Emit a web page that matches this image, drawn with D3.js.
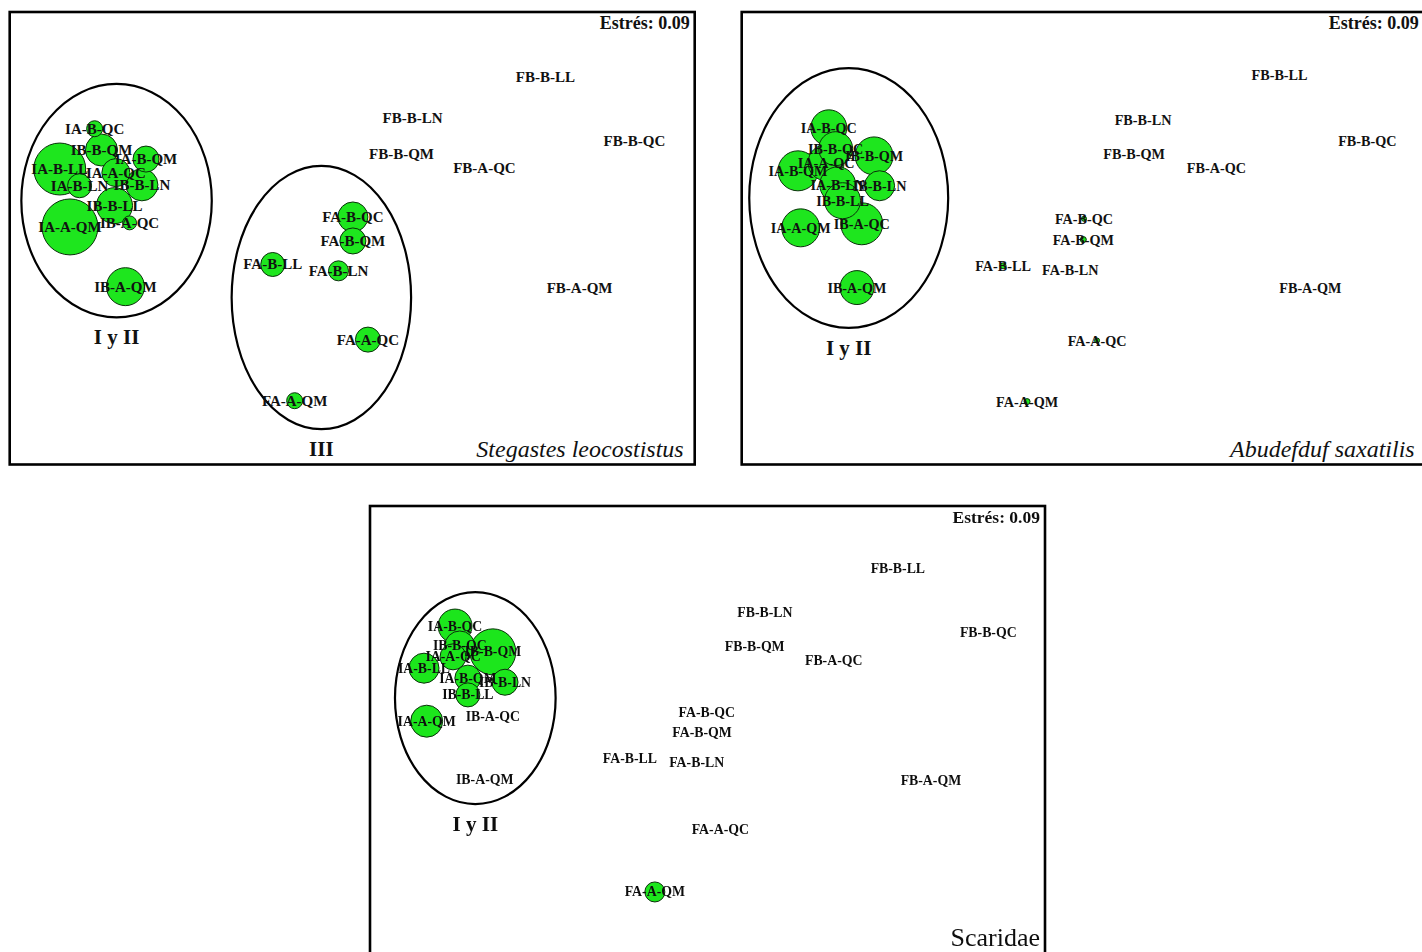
<!DOCTYPE html>
<html>
<head>
<meta charset="utf-8">
<script src="https://cdn.jsdelivr.net/npm/d3@7"></script>
<style>
  body { margin: 0; background: #fff; }
  svg { display: block; }
</style>
</head>
<body>
<svg id="chart" width="1422" height="952"></svg>
<script>
// Sample codes (site - depth - locality), shared by the three nMDS ordinations
const samples = [
  "IA-B-QC", "IB-B-QC", "IB-B-QM", "IA-B-QM", "IA-A-QC", "IA-B-LL",
  "IA-B-LN", "IB-B-LN", "IB-B-LL", "IB-A-QC", "IA-A-QM", "IB-A-QM",
  "FA-B-QC", "FA-B-QM", "FA-B-LL", "FA-B-LN", "FA-A-QC", "FA-A-QM",
  "FB-B-LL", "FB-B-LN", "FB-B-QC", "FB-B-QM", "FB-A-QC", "FB-A-QM"
];
const stressText = "Estrés: 0.09";

// Stegastes leocostistus: ordination coordinates (0-100 frame units) and bubble abundance
const stegX = [12.4, null, 13.4, 19.9, 15.5, 7.3, 10.2, 19.3, 15.3, 17.5, 8.8, 16.9,
               50.1, 50.1, 38.4, 48.0, 52.3, 41.6, 78.2, 58.8, 91.2, 57.2, 69.3, 83.2];
const stegY = [74.2, null, 69.5, 67.5, 64.5, 65.3, 61.6, 61.8, 57.2, 53.4, 52.5, 39.3,
               54.7, 49.4, 44.2, 42.8, 27.6, 14.1, 85.7, 76.6, 71.5, 68.7, 65.6, 38.9];
const stegAbund = [7.1, 0, 28.4, 18.8, 21.8, 75, 16, 28.4, 36, 5.4, 87, 40,
                   25, 18.8, 16, 11.1, 17.4, 7.1, 0, 0, 0, 0, 0, 0];
const stegGroups = [["I y II", 15.6, 58.3, 13.9, 25.8], ["III", 45.5, 36.9, 13.1, 29.1]];

// Abudefduf saxatilis
const abudX = [12.7, 13.7, 19.3, 8.2, 12.3, null, 14.0, 20.1, 14.7, 17.5, 8.6, 16.8,
               49.9, 49.8, 38.1, 47.9, 51.8, 41.6, 78.4, 58.5, 91.2, 57.2, 69.2, 82.9];
const abudY = [74.4, 69.8, 68.2, 64.9, 66.7, null, 61.8, 61.6, 58.3, 53.2, 52.3, 39.1,
               54.3, 49.7, 43.9, 43.0, 27.4, 13.9, 86.1, 76.2, 71.5, 68.7, 65.6, 38.9];
const abudAbund = [36, 32, 40, 44.4, 36, 0, 36, 25, 36, 49, 40, 32,
                   0.7, 1, 1, 0, 0.7, 1, 0, 0, 0, 0, 0, 0];
const abudGroups = [["I y II", 15.6, 58.9, 14.5, 28.7]];

// Scaridae
const scarX = [12.6, 13.3, 18.2, 14.5, 12.3, 8.0, null, 20.0, 14.5, 18.2, 8.4, 17.0,
               49.9, 49.2, 38.5, 48.4, 51.9, 42.2, 78.2, 58.5, 91.6, 57.0, 68.7, 83.1];
const scarY = [73.5, 69.1, 67.8, 62.0, 66.7, 64.2, null, 61.1, 58.3, 53.6, 52.5, 39.7,
               54.5, 49.9, 44.2, 43.3, 28.5, 14.8, 86.1, 76.6, 72.0, 68.9, 66.0, 39.5];
const scarAbund = [32, 25, 58.8, 18.8, 18.8, 25, 0, 18.8, 16, 0, 28.4, 0,
                   0, 0, 0, 0, 0, 11.1, 0, 0, 0, 0, 0, 0];
const scarGroups = [["I y II", 15.6, 57.6, 11.9, 23.4]];

const svg = d3.select("#chart");
const defs = svg.append("defs");
defs.append("filter").attr("id", "soft")
  .append("feGaussianBlur").attr("stdDeviation", 0.55);

const serif = "'Liberation Serif', 'Times New Roman', serif";
const rScale = d3.scaleSqrt().domain([0, 100]).range([0, 30]);

function drawPanel(p, xs, ys, ab, groups) {
  const g = svg.append("g");
  if (p.soft) g.attr("filter", "url(#soft)");
  const x = d3.scaleLinear().domain([0, 100]).range([p.left, p.left + p.width]);
  const y = d3.scaleLinear().domain([0, 100]).range([p.top + p.height, p.top]);

  g.append("rect")
    .attr("x", p.left).attr("y", p.top)
    .attr("width", p.width).attr("height", p.height)
    .attr("fill", "#fff").attr("stroke", "#000").attr("stroke-width", 2.6);

  const pts = samples.map((s, i) => ({ s, x: xs[i], y: ys[i], a: ab[i] }))
    .filter(d => d.x !== null);

  // group envelopes
  groups.forEach(([name, cx, cy, rx, ry]) => {
    g.append("ellipse")
      .attr("cx", x(cx)).attr("cy", y(cy))
      .attr("rx", x(rx) - x(0)).attr("ry", y(0) - y(ry))
      .attr("fill", "none").attr("stroke", "#000").attr("stroke-width", 2.2);
    g.append("text")
      .attr("x", x(cx)).attr("y", y(cy - ry) + 20)
      .attr("text-anchor", "middle").attr("dominant-baseline", "central")
      .attr("font-family", serif).attr("font-weight", "bold")
      .attr("font-size", p.groupSize).attr("fill", "#111")
      .text(name);
  });

  // abundance bubbles, biggest underneath
  g.append("g").selectAll("circle")
    .data(pts.filter(d => d.a > 0).sort((a, b) => b.a - a.a))
    .join("circle")
    .attr("cx", d => x(d.x)).attr("cy", d => y(d.y))
    .attr("r", d => rScale(d.a))
    .attr("fill", "#1ee61e").attr("stroke", "#0a300a").attr("stroke-width", 1);

  // sample labels
  g.append("g").selectAll("text")
    .data(pts)
    .join("text")
    .attr("x", d => x(d.x)).attr("y", d => y(d.y))
    .attr("text-anchor", "middle").attr("dominant-baseline", "central")
    .attr("font-family", serif).attr("font-weight", "bold")
    .attr("font-size", p.labelSize).attr("fill", "#111")
    .text(d => d.s);

  g.append("text")
    .attr("x", p.left + p.width - p.stressInset).attr("y", p.top + 11)
    .attr("text-anchor", "end").attr("dominant-baseline", "central")
    .attr("font-family", serif).attr("font-weight", "bold")
    .attr("font-size", p.stressSize).attr("fill", "#111")
    .text(stressText);

  g.append("text")
    .attr("x", p.left + p.width - p.taxonInset).attr("y", p.taxonY)
    .attr("text-anchor", "end")
    .attr("font-family", serif).attr("font-style", p.italic ? "italic" : "normal")
    .attr("font-size", p.taxonSize).attr("fill", "#111")
    .text(p.taxon);
}

drawPanel({ left: 9.7, top: 12, width: 685, height: 452.5, labelSize: 15, stressSize: 18,
            groupSize: 21, stressInset: 5, taxonInset: 11, taxonY: 457, taxonSize: 24,
            taxon: "Stegastes leocostistus", italic: true },
          stegX, stegY, stegAbund, stegGroups);

drawPanel({ left: 741.7, top: 12, width: 686, height: 452.5, labelSize: 14.2, stressSize: 18,
            groupSize: 21, stressInset: 9, taxonInset: 13, taxonY: 457, taxonSize: 24,
            taxon: "Abudefduf saxatilis", italic: true },
          abudX, abudY, abudAbund, abudGroups);

drawPanel({ left: 370, top: 506, width: 675, height: 453, labelSize: 13.8, stressSize: 17.5,
            groupSize: 21, stressInset: 5, taxonInset: 5, taxonY: 946, taxonSize: 26,
            taxon: "Scaridae", italic: false, soft: true },
          scarX, scarY, scarAbund, scarGroups);
</script>
</body>
</html>
